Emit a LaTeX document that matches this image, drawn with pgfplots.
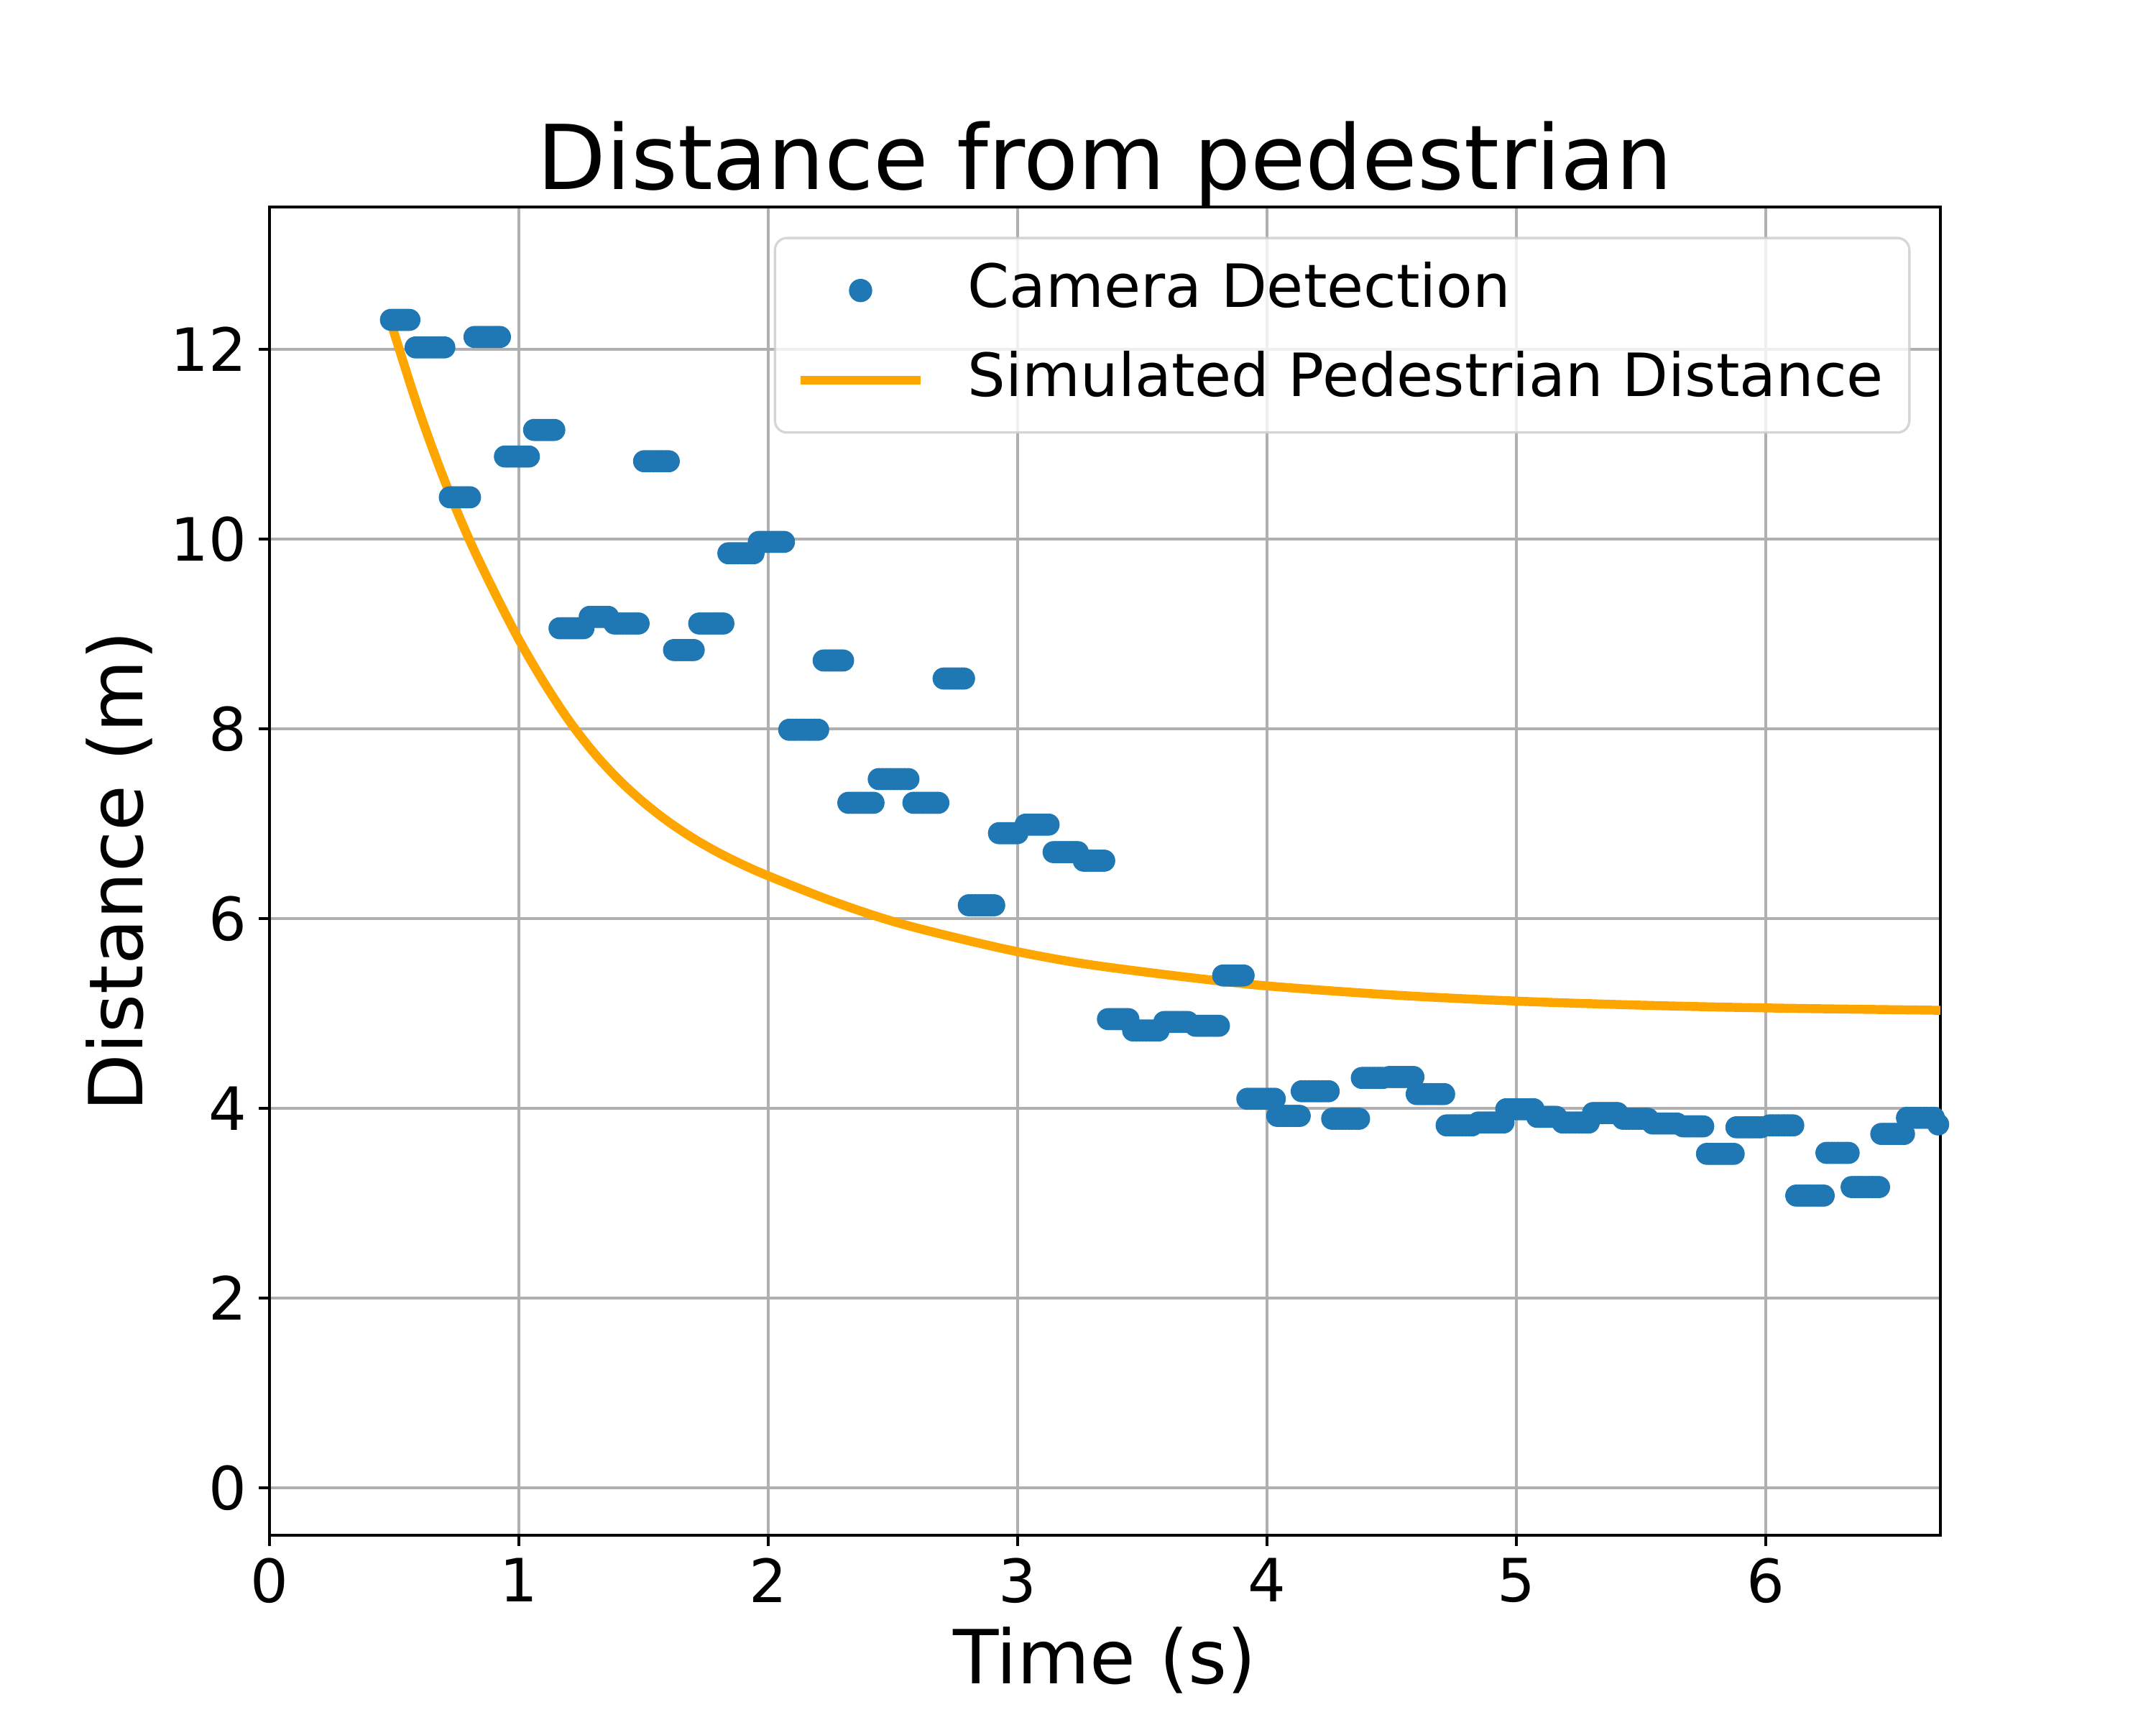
\documentclass[border=0pt]{standalone}
\usepackage{fontspec}
\setmainfont{DejaVu Sans}
\usepackage{pgfplots}
\usepackage{pgfplotstable}
\pgfplotsset{compat=1.18}
\definecolor{mblue}{HTML}{1F77B4}
\definecolor{morange}{HTML}{FFA500}
\definecolor{mgrid}{HTML}{B0B0B0}
\definecolor{mlegend}{HTML}{CCCCCC}
\newcommand{\tickfont}{\fontsize{20}{24}\selectfont}
\newcommand{\labfont}{\fontsize{25}{30}\selectfont}
\newcommand{\titfont}{\fontsize{30}{36}\selectfont}
\pgfplotsset{
  camleg/.style={legend image code/.code={\draw[mark repeat=2,mark phase=2,##1] plot coordinates {(0pt,5.5pt) (20pt,5.5pt) (40pt,5.5pt)};}},
  simleg/.style={legend image code/.code={\draw[##1, line cap=rect] (1.5pt,5.5pt) -- (38.5pt,5.5pt);}},
}

\pgfplotstableread[row sep=\\]{
t d \\
0.487 12.31 \\ 0.496 12.31 \\ 0.506 12.31 \\ 0.515 12.31 \\ 0.524 12.31 \\ 0.533 12.31 \\ 0.543 12.31 \\ 0.552 12.31 \\ 0.561 12.31 \\
0.586 12.02 \\ 0.600 12.02 \\ 0.615 12.02 \\ 0.629 12.02 \\ 0.644 12.02 \\ 0.658 12.02 \\ 0.672 12.02 \\ 0.687 12.02 \\ 0.701 12.02 \\
0.723 10.44 \\ 0.733 10.44 \\ 0.743 10.44 \\ 0.753 10.44 \\ 0.764 10.44 \\ 0.774 10.44 \\ 0.784 10.44 \\ 0.794 10.44 \\ 0.804 10.44 \\
0.822 12.13 \\ 0.835 12.13 \\ 0.848 12.13 \\ 0.860 12.13 \\ 0.873 12.13 \\ 0.886 12.13 \\ 0.899 12.13 \\ 0.911 12.13 \\ 0.924 12.13 \\
0.944 10.87 \\ 0.956 10.87 \\ 0.968 10.87 \\ 0.980 10.87 \\ 0.992 10.87 \\ 1.004 10.87 \\ 1.016 10.87 \\ 1.028 10.87 \\ 1.040 10.87 \\
1.061 11.15 \\ 1.071 11.15 \\ 1.081 11.15 \\ 1.091 11.15 \\ 1.102 11.15 \\ 1.112 11.15 \\ 1.122 11.15 \\ 1.132 11.15 \\ 1.142 11.15 \\
1.163 9.06 \\ 1.175 9.06 \\ 1.187 9.06 \\ 1.199 9.06 \\ 1.211 9.06 \\ 1.223 9.06 \\ 1.235 9.06 \\ 1.247 9.06 \\ 1.259 9.06 \\
1.284 9.18 \\ 1.293 9.18 \\ 1.303 9.18 \\ 1.312 9.18 \\ 1.321 9.18 \\ 1.330 9.18 \\ 1.340 9.18 \\ 1.349 9.18 \\ 1.358 9.18 \\
1.383 9.11 \\ 1.395 9.11 \\ 1.407 9.11 \\ 1.419 9.11 \\ 1.432 9.11 \\ 1.444 9.11 \\ 1.456 9.11 \\ 1.468 9.11 \\ 1.480 9.11 \\
1.502 10.82 \\ 1.514 10.82 \\ 1.527 10.82 \\ 1.539 10.82 \\ 1.552 10.82 \\ 1.564 10.82 \\ 1.576 10.82 \\ 1.589 10.82 \\ 1.601 10.82 \\
1.622 8.83 \\ 1.632 8.83 \\ 1.642 8.83 \\ 1.652 8.83 \\ 1.662 8.83 \\ 1.671 8.83 \\ 1.681 8.83 \\ 1.691 8.83 \\ 1.701 8.83 \\
1.723 9.11 \\ 1.735 9.11 \\ 1.747 9.11 \\ 1.759 9.11 \\ 1.772 9.11 \\ 1.784 9.11 \\ 1.796 9.11 \\ 1.808 9.11 \\ 1.820 9.11 \\
1.840 9.85 \\ 1.853 9.85 \\ 1.865 9.85 \\ 1.878 9.85 \\ 1.891 9.85 \\ 1.903 9.85 \\ 1.916 9.85 \\ 1.928 9.85 \\ 1.941 9.85 \\
1.962 9.97 \\ 1.975 9.97 \\ 1.987 9.97 \\ 2.000 9.97 \\ 2.013 9.97 \\ 2.025 9.97 \\ 2.038 9.97 \\ 2.050 9.97 \\ 2.063 9.97 \\
2.084 7.99 \\ 2.099 7.99 \\ 2.113 7.99 \\ 2.128 7.99 \\ 2.142 7.99 \\ 2.157 7.99 \\ 2.171 7.99 \\ 2.186 7.99 \\ 2.200 7.99 \\
2.222 8.72 \\ 2.232 8.72 \\ 2.242 8.72 \\ 2.251 8.72 \\ 2.261 8.72 \\ 2.271 8.72 \\ 2.281 8.72 \\ 2.290 8.72 \\ 2.300 8.72 \\
2.321 7.22 \\ 2.334 7.22 \\ 2.346 7.22 \\ 2.359 7.22 \\ 2.372 7.22 \\ 2.384 7.22 \\ 2.397 7.22 \\ 2.409 7.22 \\ 2.422 7.22 \\
2.443 7.47 \\ 2.458 7.47 \\ 2.473 7.47 \\ 2.488 7.47 \\ 2.503 7.47 \\ 2.517 7.47 \\ 2.532 7.47 \\ 2.547 7.47 \\ 2.562 7.47 \\
2.582 7.22 \\ 2.595 7.22 \\ 2.607 7.22 \\ 2.620 7.22 \\ 2.632 7.22 \\ 2.645 7.22 \\ 2.657 7.22 \\ 2.670 7.22 \\ 2.682 7.22 \\
2.703 8.53 \\ 2.713 8.53 \\ 2.724 8.53 \\ 2.734 8.53 \\ 2.744 8.53 \\ 2.754 8.53 \\ 2.765 8.53 \\ 2.775 8.53 \\ 2.785 8.53 \\
2.804 6.14 \\ 2.817 6.14 \\ 2.830 6.14 \\ 2.842 6.14 \\ 2.855 6.14 \\ 2.868 6.14 \\ 2.881 6.14 \\ 2.893 6.14 \\ 2.906 6.14 \\
2.925 6.90 \\ 2.934 6.90 \\ 2.944 6.90 \\ 2.953 6.90 \\ 2.962 6.90 \\ 2.971 6.90 \\ 2.981 6.90 \\ 2.990 6.90 \\ 2.999 6.90 \\
3.032 6.99 \\ 3.044 6.99 \\ 3.055 6.99 \\ 3.067 6.99 \\ 3.078 6.99 \\ 3.090 6.99 \\ 3.101 6.99 \\ 3.113 6.99 \\ 3.124 6.99 \\
3.144 6.70 \\ 3.156 6.70 \\ 3.168 6.70 \\ 3.180 6.70 \\ 3.193 6.70 \\ 3.205 6.70 \\ 3.217 6.70 \\ 3.229 6.70 \\ 3.241 6.70 \\
3.265 6.61 \\ 3.275 6.61 \\ 3.286 6.61 \\ 3.296 6.61 \\ 3.306 6.61 \\ 3.316 6.61 \\ 3.327 6.61 \\ 3.337 6.61 \\ 3.347 6.61 \\
3.362 4.94 \\ 3.372 4.94 \\ 3.383 4.94 \\ 3.393 4.94 \\ 3.403 4.94 \\ 3.413 4.94 \\ 3.424 4.94 \\ 3.434 4.94 \\ 3.444 4.94 \\
3.463 4.82 \\ 3.476 4.82 \\ 3.489 4.82 \\ 3.501 4.82 \\ 3.514 4.82 \\ 3.527 4.82 \\ 3.540 4.82 \\ 3.552 4.82 \\ 3.565 4.82 \\
3.588 4.91 \\ 3.600 4.91 \\ 3.612 4.91 \\ 3.623 4.91 \\ 3.635 4.91 \\ 3.647 4.91 \\ 3.659 4.91 \\ 3.670 4.91 \\ 3.682 4.91 \\
3.713 4.87 \\ 3.725 4.87 \\ 3.737 4.87 \\ 3.748 4.87 \\ 3.760 4.87 \\ 3.772 4.87 \\ 3.784 4.87 \\ 3.795 4.87 \\ 3.807 4.87 \\
3.824 5.40 \\ 3.834 5.40 \\ 3.845 5.40 \\ 3.855 5.40 \\ 3.865 5.40 \\ 3.875 5.40 \\ 3.886 5.40 \\ 3.896 5.40 \\ 3.906 5.40 \\
3.921 4.10 \\ 3.935 4.10 \\ 3.949 4.10 \\ 3.962 4.10 \\ 3.976 4.10 \\ 3.990 4.10 \\ 4.004 4.10 \\ 4.017 4.10 \\ 4.031 4.10 \\
4.041 3.92 \\ 4.052 3.92 \\ 4.064 3.92 \\ 4.075 3.92 \\ 4.086 3.92 \\ 4.097 3.92 \\ 4.109 3.92 \\ 4.120 3.92 \\ 4.131 3.92 \\
4.139 4.18 \\ 4.153 4.18 \\ 4.166 4.18 \\ 4.180 4.18 \\ 4.193 4.18 \\ 4.207 4.18 \\ 4.220 4.18 \\ 4.234 4.18 \\ 4.247 4.18 \\
4.261 3.89 \\ 4.275 3.89 \\ 4.288 3.89 \\ 4.302 3.89 \\ 4.315 3.89 \\ 4.329 3.89 \\ 4.342 3.89 \\ 4.356 3.89 \\ 4.369 3.89 \\
4.380 4.32 \\ 4.391 4.32 \\ 4.401 4.32 \\ 4.412 4.32 \\ 4.423 4.32 \\ 4.433 4.32 \\ 4.444 4.32 \\ 4.454 4.32 \\ 4.465 4.32 \\
4.490 4.33 \\ 4.502 4.33 \\ 4.514 4.33 \\ 4.526 4.33 \\ 4.539 4.33 \\ 4.551 4.33 \\ 4.563 4.33 \\ 4.575 4.33 \\ 4.587 4.33 \\
4.600 4.15 \\ 4.614 4.15 \\ 4.628 4.15 \\ 4.641 4.15 \\ 4.655 4.15 \\ 4.669 4.15 \\ 4.683 4.15 \\ 4.696 4.15 \\ 4.710 4.15 \\
4.720 3.82 \\ 4.733 3.82 \\ 4.746 3.82 \\ 4.758 3.82 \\ 4.771 3.82 \\ 4.784 3.82 \\ 4.797 3.82 \\ 4.809 3.82 \\ 4.822 3.82 \\
4.847 3.85 \\ 4.860 3.85 \\ 4.872 3.85 \\ 4.885 3.85 \\ 4.898 3.85 \\ 4.910 3.85 \\ 4.923 3.85 \\ 4.935 3.85 \\ 4.948 3.85 \\
4.959 3.99 \\ 4.973 3.99 \\ 4.987 3.99 \\ 5.000 3.99 \\ 5.014 3.99 \\ 5.028 3.99 \\ 5.042 3.99 \\ 5.055 3.99 \\ 5.069 3.99 \\
5.083 3.91 \\ 5.093 3.91 \\ 5.102 3.91 \\ 5.112 3.91 \\ 5.122 3.91 \\ 5.131 3.91 \\ 5.141 3.91 \\ 5.150 3.91 \\ 5.160 3.91 \\
5.185 3.85 \\ 5.198 3.85 \\ 5.211 3.85 \\ 5.224 3.85 \\ 5.238 3.85 \\ 5.251 3.85 \\ 5.264 3.85 \\ 5.277 3.85 \\ 5.290 3.85 \\
5.307 3.95 \\ 5.319 3.95 \\ 5.332 3.95 \\ 5.344 3.95 \\ 5.356 3.95 \\ 5.368 3.95 \\ 5.381 3.95 \\ 5.393 3.95 \\ 5.405 3.95 \\
5.427 3.89 \\ 5.440 3.89 \\ 5.452 3.89 \\ 5.465 3.89 \\ 5.477 3.89 \\ 5.490 3.89 \\ 5.502 3.89 \\ 5.515 3.89 \\ 5.527 3.89 \\
5.546 3.84 \\ 5.558 3.84 \\ 5.570 3.84 \\ 5.582 3.84 \\ 5.595 3.84 \\ 5.607 3.84 \\ 5.619 3.84 \\ 5.631 3.84 \\ 5.643 3.84 \\
5.668 3.81 \\ 5.678 3.81 \\ 5.688 3.81 \\ 5.698 3.81 \\ 5.709 3.81 \\ 5.719 3.81 \\ 5.729 3.81 \\ 5.739 3.81 \\ 5.749 3.81 \\
5.764 3.52 \\ 5.777 3.52 \\ 5.791 3.52 \\ 5.804 3.52 \\ 5.818 3.52 \\ 5.831 3.52 \\ 5.844 3.52 \\ 5.858 3.52 \\ 5.871 3.52 \\
5.882 3.80 \\ 5.894 3.80 \\ 5.907 3.80 \\ 5.919 3.80 \\ 5.932 3.80 \\ 5.944 3.80 \\ 5.956 3.80 \\ 5.969 3.80 \\ 5.981 3.80 \\
6.015 3.82 \\ 6.027 3.82 \\ 6.039 3.82 \\ 6.051 3.82 \\ 6.063 3.82 \\ 6.074 3.82 \\ 6.086 3.82 \\ 6.098 3.82 \\ 6.110 3.82 \\
6.122 3.08 \\ 6.136 3.08 \\ 6.150 3.08 \\ 6.163 3.08 \\ 6.177 3.08 \\ 6.191 3.08 \\ 6.205 3.08 \\ 6.218 3.08 \\ 6.232 3.08 \\
6.243 3.53 \\ 6.254 3.53 \\ 6.265 3.53 \\ 6.276 3.53 \\ 6.288 3.53 \\ 6.299 3.53 \\ 6.310 3.53 \\ 6.321 3.53 \\ 6.332 3.53 \\
6.344 3.17 \\ 6.358 3.17 \\ 6.372 3.17 \\ 6.385 3.17 \\ 6.399 3.17 \\ 6.413 3.17 \\ 6.427 3.17 \\ 6.440 3.17 \\ 6.454 3.17 \\
6.463 3.73 \\ 6.474 3.73 \\ 6.486 3.73 \\ 6.497 3.73 \\ 6.509 3.73 \\ 6.520 3.73 \\ 6.531 3.73 \\ 6.543 3.73 \\ 6.554 3.73 \\
6.566 3.90 \\ 6.580 3.90 \\ 6.593 3.90 \\ 6.607 3.90 \\ 6.620 3.90 \\ 6.634 3.90 \\ 6.647 3.90 \\ 6.661 3.90 \\ 6.674 3.90 \\
6.691 3.83 \\ 6.703 3.83 \\ 6.715 3.83 \\ 6.728 3.83 \\ 6.740 3.83 \\
}\camdata

\pgfplotstableread{
t d
0.480 12.34
0.500 12.17
0.600 11.35
0.700 10.63
0.800 10.00
0.900 9.45
1.000 8.94
1.100 8.49
1.200 8.09
1.300 7.75
1.400 7.465
1.500 7.225
1.600 7.02
1.700 6.845
1.800 6.695
1.900 6.565
2.000 6.45
2.250 6.19
2.500 5.97
2.750 5.80
3.000 5.65
3.250 5.53
3.500 5.44
3.750 5.36
4.000 5.29
4.500 5.195
5.000 5.13
5.500 5.087
6.000 5.058
6.700 5.033
}\simdata

\begin{document}
\begin{tikzpicture}
\begin{axis}[
  at={(1.25in,0.88in)}, anchor=south west,
  scale only axis, width=7.75in, height=6.16in,
  set layers,
  xmin=0, xmax=6.70, ymin=-0.5, ymax=13.5,
  xtick={0,1,2,3,4,5,6}, ytick={0,2,4,6,8,10,12},
  xtick pos=bottom, ytick pos=left,
  tick align=outside, major tick length=3.5pt,
  tick style={black, line width=0.8pt},
  axis line style={line width=0.8pt},
  grid=major, grid style={mgrid, line width=0.8pt},
  /pgf/number format/assume math mode=true,
  xticklabel style={font=\tickfont, inner sep=0pt, anchor=north, yshift=-4pt},
  yticklabel style={font=\tickfont, inner sep=0pt, anchor=east, xshift=-3.9pt},
  xlabel={Time (s)}, ylabel={Distance (m)},
  xlabel style={font=\labfont, at={(axis description cs:0.5,-0.1116)}, anchor=base},
  ylabel style={font=\labfont, at={(axis description cs:-0.0759,0.5)}, anchor=base},
  title={Distance from pedestrian},
  title style={font=\titfont, at={(axis description cs:0.5,1)}, anchor=base},
  legend cell align=left,
  legend style={font=\tickfont, at={(axis description cs:1,1)}, anchor=north east,
    xshift=-10pt, yshift=-10pt, draw=mlegend, line width=0.8pt, rounded corners=4pt,
    fill=white, fill opacity=0.8, draw opacity=0.8, text opacity=1,
    inner xsep=8.7pt, inner ysep=7.6pt, row sep=10pt, column sep=16pt,
    nodes={inner sep=0pt, text height=15.5pt, text depth=4.5pt, anchor=base west}},
  legend image post style={fill opacity=1, draw opacity=1},
]
\addplot[only marks, mark=*, mark size=3.5pt, color=mblue,
  mark options={draw=none, fill=mblue}, on layer=axis background, camleg]
  table[x=t, y=d] {\camdata};
\addlegendentry{Camera Detection}
\addplot[color=morange, line width=3pt, smooth, tension=0.55, line join=round, simleg]
  table[x=t, y=d] {\simdata};
\addlegendentry{Simulated Pedestrian Distance}
\end{axis}
\path (0,0) rectangle (10in,8in);
\end{tikzpicture}
\end{document}
